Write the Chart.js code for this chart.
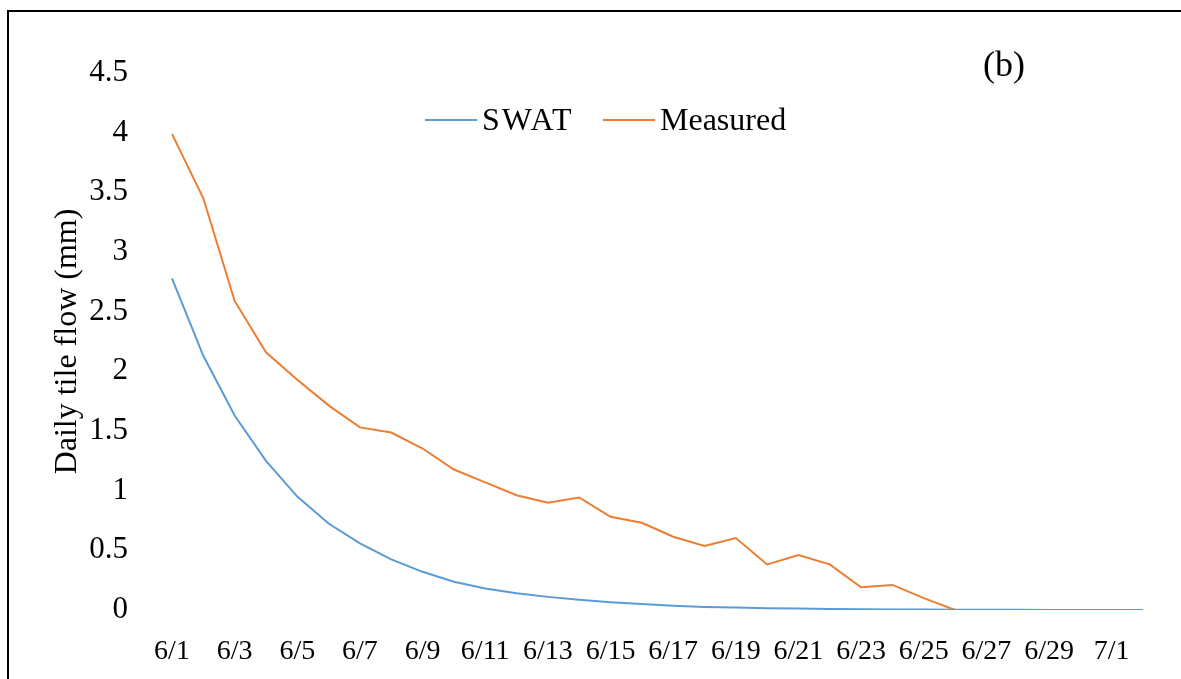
<!DOCTYPE html>
<html>
<head>
<meta charset="utf-8">
<script src="https://cdn.jsdelivr.net/npm/chart.js@4"></script>
<style>
  html, body { margin: 0; padding: 0; background: #fff; }
  #wrap { position: relative; width: 1181px; height: 679px; overflow: hidden; }
  #frame { position: absolute; left: 7px; top: 10px; width: 1300px; height: 1000px;
           border-left: 2px solid #000; border-top: 2px solid #000; }
  #myChart { position: absolute; left: 0; top: 0; }
</style>
</head>
<body>
<div id="wrap">
  <div id="frame"></div>
  <canvas id="myChart" width="1181" height="679"></canvas>
</div>
<script>
// dates 6/1 .. 7/2
var days = ['6/1','6/2','6/3','6/4','6/5','6/6','6/7','6/8','6/9','6/10',
            '6/11','6/12','6/13','6/14','6/15','6/16','6/17','6/18','6/19','6/20',
            '6/21','6/22','6/23','6/24','6/25','6/26','6/27','6/28','6/29','6/30',
            '7/1','7/2'];
var swat = [2.78, 2.13, 1.63, 1.25, 0.95, 0.725, 0.558, 0.424, 0.32, 0.237,
            0.18, 0.14, 0.11, 0.085, 0.065, 0.05, 0.036, 0.026, 0.02, 0.015,
            0.012, 0.009, 0.007, 0.005, 0.004, 0.003, 0.002, 0.002, 0.001, 0.001,
            0.001, 0.0];
var measured = [3.99, 3.45, 2.59, 2.16, 1.93, 1.715, 1.53, 1.487, 1.353, 1.177,
                1.07, 0.962, 0.898, 0.943, 0.781, 0.731, 0.614, 0.536, 0.603, 0.382,
                0.46, 0.382, 0.19, 0.21, 0.10, 0.0, 0.0, 0.0, 0.0, 0.0,
                0.0, 0.0];
var yTicks = [0, 0.5, 1, 1.5, 2, 2.5, 3, 3.5, 4, 4.5];

var serif = 'Liberation Serif';

// legend + panel letter drawn inside the plot area
var overlayPlugin = {
    id: 'overlay',
    afterDraw: function(chart) {
        var c = chart.ctx;
        c.save();
        c.font = '32px "' + serif + '"';
        c.textBaseline = 'middle';
        c.fillStyle = '#000';
        var items = [
            { x: 425, sp: '2px', ds: chart.data.datasets[0] },
            { x: 603, sp: '0px', ds: chart.data.datasets[1] }
        ];
        items.forEach(function(it) {
            c.strokeStyle = it.ds.borderColor;
            c.lineWidth = 2;
            c.beginPath();
            c.moveTo(it.x, 120);
            c.lineTo(it.x + 52, 120);
            c.stroke();
            c.letterSpacing = it.sp;
            c.fillText(it.ds.label, it.x + 57, 122);
        });
        c.letterSpacing = '0px';
        c.font = '36px "' + serif + '"';
        c.textAlign = 'center';
        c.fillText('(b)', 1004, 67);
        c.restore();
    }
};

function myLoadFunction() {
    const ctx = document.getElementById('myChart').getContext('2d');
    var myChartConfig = {
        type: 'line',
        data: {
            labels: days,
            datasets: [
            {
                label: 'SWAT',
                data: swat,
                borderColor: '#5B9BD5',
                backgroundColor: '#5B9BD5',
                borderWidth: 2,
                pointRadius: 0,
                tension: 0
            },
            {
                label: 'Measured',
                data: measured,
                borderColor: '#ED7D31',
                backgroundColor: '#ED7D31',
                borderWidth: 2,
                pointRadius: 0,
                tension: 0
            }
            ]
        },
        options: {
            responsive: false,
            animation: false,
            layout: { padding: { left: 48, right: 38, top: 73, bottom: 0 } },
            plugins: {
                legend: { display: false },
                tooltip: { enabled: false }
            },
            scales: {
                x: {
                    afterFit: function(axis) { axis.height = 69; },
                    grid: { display: false, drawTicks: false },
                    border: { display: false },
                    ticks: {
                        autoSkip: false,
                        maxRotation: 0,
                        padding: 25,
                        color: '#000',
                        font: { family: serif, size: 28 },
                        callback: function(v, i) { return i % 2 === 0 ? days[i] : ''; }
                    }
                },
                y: {
                    min: 0,
                    max: 4.5,
                    afterBuildTicks: function(axis) {
                        axis.ticks = yTicks.map(function(v) { return { value: v }; });
                    },
                    afterFit: function(axis) { axis.width = 124; },
                    grid: { display: false, drawTicks: false },
                    border: { display: false },
                    title: {
                        display: true,
                        text: 'Daily tile flow (mm)',
                        color: '#000',
                        font: { family: serif, size: 32 },
                        padding: { top: 0, bottom: 0 }
                    },
                    ticks: {
                        padding: 44,
                        color: '#000',
                        font: { family: serif, size: 31 },
                        callback: function(v) { return String(v); }
                    }
                }
            }
        },
        plugins: [overlayPlugin]
    };
    const myChart = new Chart(ctx, myChartConfig);
}

document.addEventListener('DOMContentLoaded', myLoadFunction);
</script>
</body>
</html>
